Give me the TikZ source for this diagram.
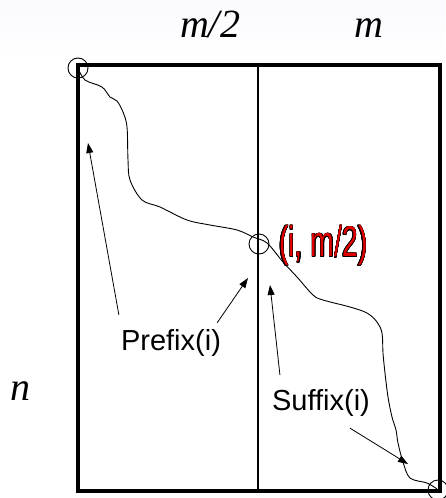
\documentclass[tikz,border=0pt]{standalone}
\usepackage{fontspec}
\setmainfont{Liberation Serif}
\setsansfont{Liberation Sans}
\usepackage{contour}
\usetikzlibrary{arrows.meta}
\contourlength{0.5pt}
\definecolor{splitred}{HTML}{E00000}

\begin{document}
\begin{tikzpicture}[x=1pt, y=-1pt,
    lbl/.style={font=\fontsize{29}{32}\selectfont\sffamily, inner sep=2pt},
    dim/.style={font=\fontsize{40}{44}\selectfont\itshape, inner sep=0pt, anchor=base},
    pointer/.style={-{Triangle[length=10pt, width=7pt]}, line width=0.8pt}]

  % ---------------------------------------------------------------- frame
  % y runs downwards, one unit per pixel of the 445 x 498 sheet.
  \useasboundingbox (0,0) rectangle (445,498);
  \shade[top color=blue!2, bottom color=white] (0,0) rectangle (445,60);

  \draw[line width=3.5pt] (78,65) rectangle (440,491);
  \draw[line width=1.2pt] (258,65) -- (258,491);

  % ------------------------------------------------------ the optimal path
  \draw[line width=0.9pt]
    plot[smooth, tension=0.55] coordinates {(78,68) (85,80) (102,87)
      (110,97) (117,101) (123,112) (127,127) (128,160) (130,180) (142,200)
      (160,207) (187,220) (210,225) (237,230) (253,237) (267,243) (283,262)
      (297,277) (313,295) (323,300) (350,307) (367,313) (377,322) (382,333)
      (383,353) (385,373) (388,397) (392,417) (396,430) (398,443) (403,462)
      (410,478) (427,483) (437,489)};
  \foreach \p in {(78,68), (259,244), (438,490)}
    \draw[line width=0.9pt] \p circle (10pt);

  % ------------------------------------------------------------ dimensions
  \node (mhalf) [dim] at (210,37) {m/2};
  \node (mfull) [dim] at (369,37) {m};
  \node (nlbl)  [dim] at (20,400) {n};

  % The split point in the middle column.
  \node (split) [anchor=west, inner sep=0pt,
                 font=\fontsize{43}{46}\selectfont\sffamily] at (279,246)
    {\scalebox{0.66}[1]{\contour{black}{\textcolor{splitred}{(i, m/2)}}}};

  % ------------------------------------------------------- prefix / suffix
  \node (prefix) [lbl, anchor=base] at (171,350) {Prefix(i)};
  \node (suffix) [lbl, anchor=base] at (321,410) {Suffix(i)};

  \coordinate (pTop) at (88,143);
  \coordinate (pMid) at (248,278);
  \coordinate (sMid) at (270,285);
  \coordinate (sEnd) at (408,464);

  \draw[pointer] ([shift={(0,-12)}]prefix.north west) -- (pTop);
  \draw[pointer] ([shift={(-6,-4)}]prefix.north east) -- (pMid);
  \draw[pointer] ([shift={(10,-12)}]suffix.north west) -- (sMid);
  \draw[pointer] ([shift={(-22,10)}]suffix.south east) -- (sEnd);

\end{tikzpicture}
\end{document}
